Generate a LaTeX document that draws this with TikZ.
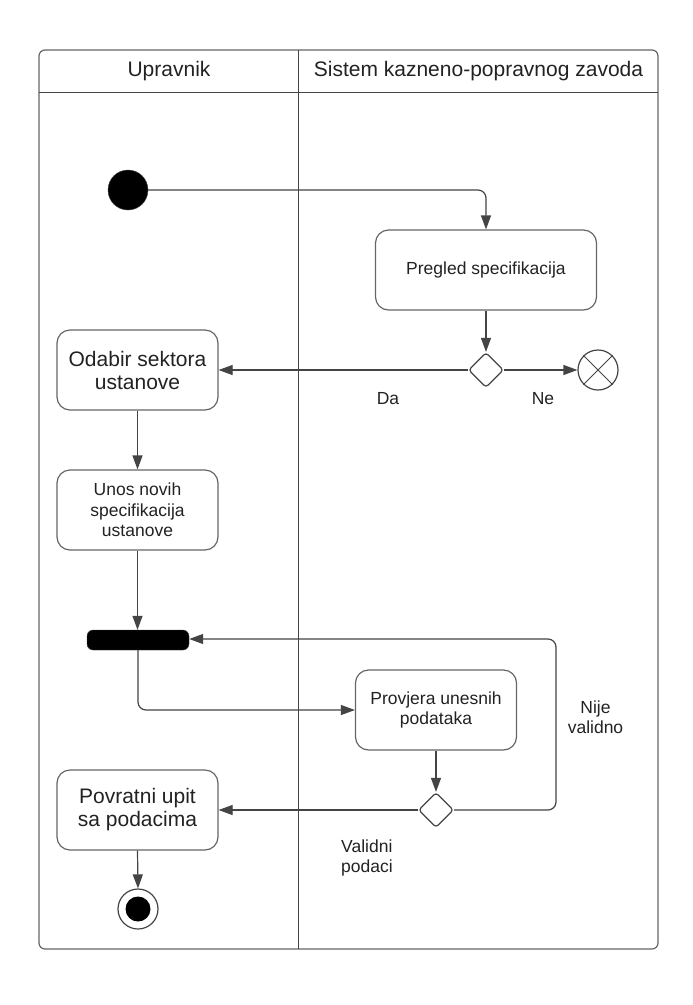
\documentclass[tikz,border=0pt]{standalone}
\usepackage{fontspec}
\setmainfont{Liberation Sans}
\usetikzlibrary{shapes.geometric,arrows.meta}
\definecolor{linegray}{HTML}{444444}
\definecolor{framegray}{HTML}{666666}
\definecolor{textgray}{HTML}{222222}
\tikzset{
	bigtext/.style={font=\fontsize{21}{23}\selectfont},
	smalltext/.style={font=\fontsize{17.5}{20.5}\selectfont},
	action/.style={draw=framegray,line width=1.2pt,rounded corners=13pt,minimum width=161pt,minimum height=80pt,align=center,text=textgray,inner sep=0pt},
	decision/.style={draw=linegray,line width=1.2pt,diamond,aspect=1,minimum size=35pt,inner sep=0pt,rounded corners=3pt},
	flow/.style={draw=linegray,line width=1.2pt,-{Triangle[length=14pt,width=10pt]}},
	lbl/.style={smalltext,text=textgray,align=center,inner sep=0pt}
}
\begin{document}
\begin{tikzpicture}[x=1pt,y=-1pt]
			\useasboundingbox (0,0) rectangle (693,1005);
			\draw[framegray,line width=1.2pt,rounded corners=6pt](39,50) rectangle (658,949);
			\draw[linegray,line width=1pt](39,92) -- (658,92);
			\draw[linegray,line width=1pt](298.5,50) -- (298.5,949);
			\node[bigtext,text=textgray,anchor=base] (upravnik) at (169,76) {Upravnik};
			\node[bigtext,text=textgray,anchor=base] (sistem) at (478.5,76) {Sistem kazneno-popravnog zavoda};
			\node[circle,fill=black,draw=linegray,minimum size=40pt,inner sep=0pt] (start) at (128,190) {};
			\node[action,smalltext,minimum width=221pt] (pregled) at (486,270) {Pregled specifikacija};
			\node[decision] (odluka) at (486,370) {};
			\node[circle,draw=linegray,line width=1.2pt,minimum size=40pt,inner sep=0pt] (kraj1) at (598,370) {};
			\draw[linegray,line width=1pt](kraj1.45) -- (kraj1.225);
			\draw[linegray,line width=1pt](kraj1.135) -- (kraj1.315);
			\node[action,bigtext] (odabir) at (137.5,370) {Odabir sektora\\ustanove};
			\node[action,smalltext] (unos) at (137.5,510) {Unos novih\\specifikacija\\ustanove};
			\node[fill=black,draw=linegray,rounded corners=6pt,minimum width=102pt,minimum height=20pt,inner sep=0pt] (fork) at (138,640) {};
			\node[action,smalltext] (provjera) at (436,710) {Provjera unesnih\\podataka};
			\node[decision] (validacija) at (436,810) {};
			\node[action,bigtext] (povratni) at (137.5,810) {Povratni upit\\sa podacima};
			\node[circle,draw=linegray,line width=1.2pt,minimum size=40pt,inner sep=0pt] (kraj2) at (138,909) {};
			\node[circle,fill=black,minimum size=25pt,inner sep=0pt] (kraj2in) at (kraj2) {};
			\coordinate (povrat) at (556,639);
			\draw[flow,rounded corners=8pt](start) -| (pregled.north);
			\draw[flow](pregled) -- (odluka);
			\draw[flow](odluka) -- (kraj1);
			\draw[flow](odluka) -- (odabir);
			\draw[flow](odabir) -- (unos);
			\draw[flow](unos.south) -- (unos.south |- fork.north);
			\draw[flow,rounded corners=8pt](fork.south) |- (provjera.west);
			\draw[flow](provjera) -- (validacija);
			\draw[flow](validacija) -- (povratni);
			\draw[flow,rounded corners=8pt](validacija.east) -| (povrat) -- (fork.east |- povrat);
			\draw[flow](povratni.south) -- (kraj2.north);
			\node[lbl] (da) at (388,399) {Da};
			\node[lbl] (ne) at (543,399) {Ne};
			\node[lbl] (nije) at (595.5,717) {Nije\\validno};
			\node[lbl,align=left,anchor=west] (validni) at (341,858) {Validni\\podaci};
		\end{tikzpicture}
\end{document}
